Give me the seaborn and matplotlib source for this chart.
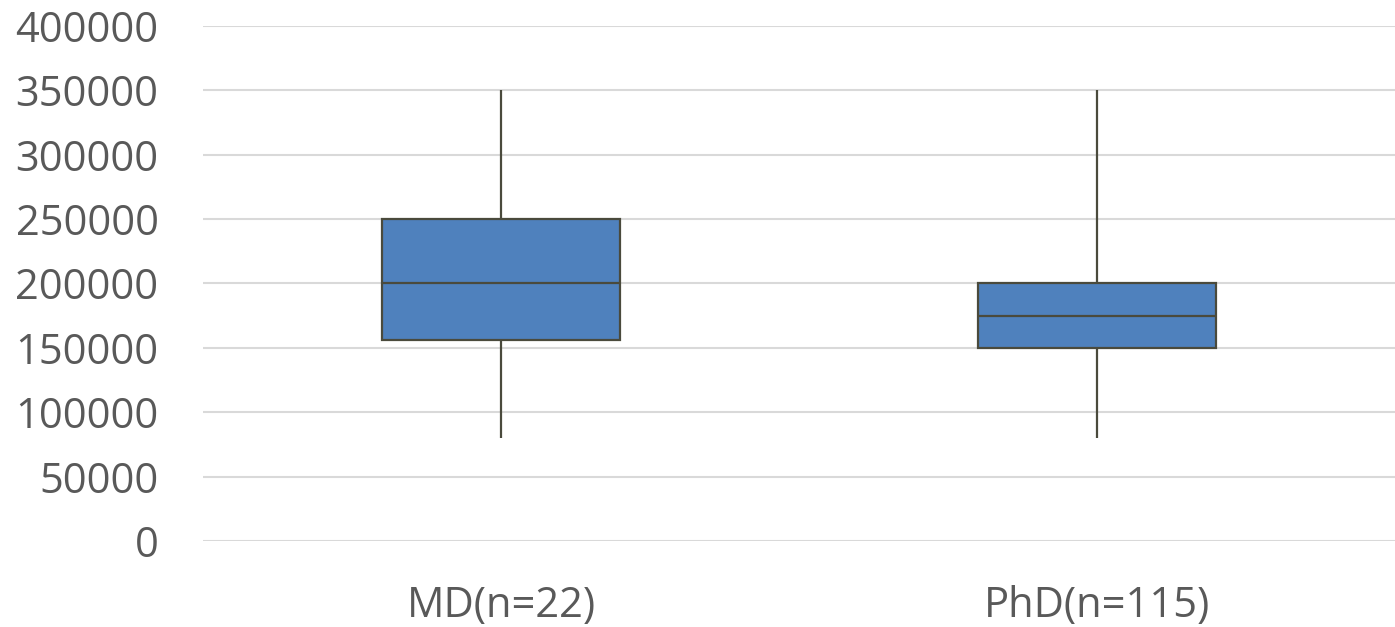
import matplotlib
matplotlib.use("Agg")
import matplotlib.pyplot as plt
import seaborn as sns
import pandas as pd

# five-number summaries (min, Q1, median, Q3, max)
groups = ["MD(n=22)", "PhD(n=115)"]
md_summary = [80000, 156000, 200000, 250000, 350000]
phd_summary = [80000, 150000, 175000, 200000, 350000]
y_ticks = [0, 50000, 100000, 150000, 200000, 250000, 300000, 350000, 400000]

df = pd.DataFrame({
    "group": [groups[0]] * len(md_summary) + [groups[1]] * len(phd_summary),
    "salary": md_summary + phd_summary,
})

sns.set_style("white")
plt.rcParams["font.family"] = ["Open Sans", "DejaVu Sans"]

fig = plt.figure(figsize=(13.95, 6.27), dpi=100)
ax = fig.add_axes([0.1455, 0.1372, 0.8545, 0.8213])

sns.boxplot(data=df, x="group", y="salary", ax=ax, whis=(0, 100), width=0.4,
            color="#4f81bd", saturation=1, linecolor="#4a4a3c", linewidth=1.6,
            capprops={"visible": False}, zorder=3)

ax.set_xlim(-0.5, 1.5)
ax.set_ylim(0, 400000)
ax.set_yticks(y_ticks)
ax.set_yticklabels([str(v) for v in y_ticks])
ax.yaxis.grid(True, color="#d9d9d9", linewidth=1.5, zorder=0)
ax.set_axisbelow(True)
sns.despine(ax=ax, left=True, bottom=True)
ax.tick_params(axis="y", length=0, pad=32, labelsize=30, labelcolor="#595959")
ax.tick_params(axis="x", length=0, pad=32, labelsize=30, labelcolor="#595959")
ax.set_xlabel("")
ax.set_ylabel("")

fig.savefig("out.png", dpi=100)
